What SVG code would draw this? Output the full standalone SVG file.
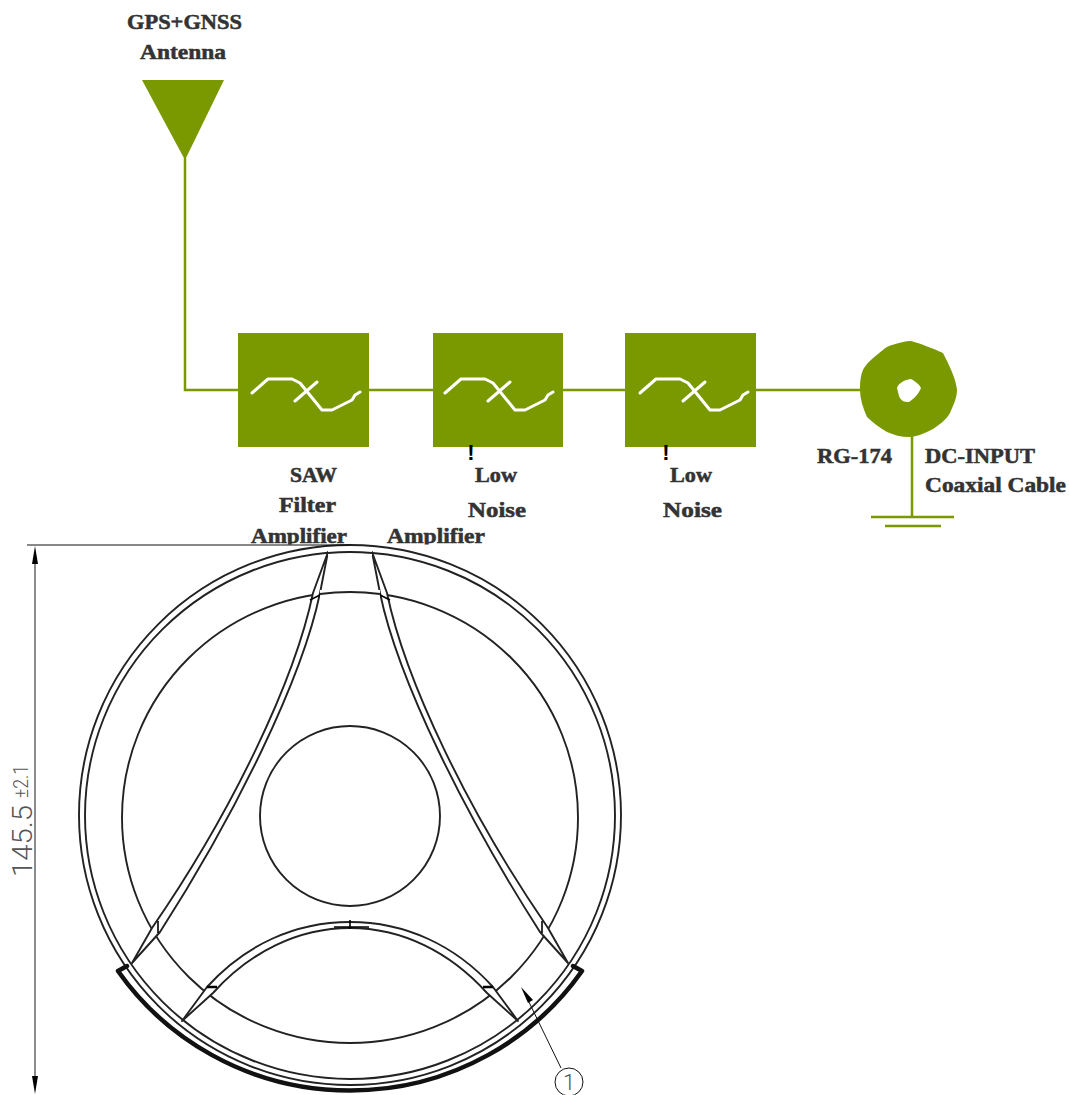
<svg xmlns="http://www.w3.org/2000/svg" width="1069" height="1095" viewBox="0 0 1069 1095">
<style>
.g{fill:#7a9900}
.w{fill:none;stroke:#7a9900;stroke-width:2.5}
.f{fill:none;stroke:#fff;stroke-width:3;stroke-linejoin:round;stroke-linecap:round}
.l{font-family:"Liberation Serif",serif;font-weight:bold;font-size:20px;fill:#333;stroke:#333;stroke-width:.5}
.d{fill:none;stroke:#222;stroke-width:1.9}
.k{fill:#fff;stroke:#222;stroke-width:1.9;stroke-linejoin:round}
.t{fill:none;stroke:#111;stroke-width:1}
.m{fill:none;stroke:#666;stroke-width:1.5}
.x{fill:none;stroke:#000;stroke-width:1.6}
.y{fill:none;stroke:#000;stroke-width:2.6}
.b{font-family:"Liberation Sans",sans-serif;font-weight:bold;font-size:22px;fill:#000}
.c{font-family:Roboto,"Liberation Sans",sans-serif;font-weight:300;fill:#555}
</style>
<defs>
<clipPath id="cl"><rect x="240" y="520" width="260" height="24.500"/></clipPath>
<path id="fc" class="f" d="M0 0L16-14H40L48-10L70 17H80L100 7L103 2L108-1M43 8L65-11"/>
</defs>
<g id="connectors">
<path class="w" d="M185 158V390H239"/>
<path class="w" d="M368 390H433"/>
<path class="w" d="M563 390H625"/>
<path class="w" d="M756 390H862"/>
<path class="w" d="M912 436V517"/>
</g>
<g id="antenna"><polygon class="g" points="142,80 224,80 185,160"/>
<text class="l" x="127" y="29" textLength="115" lengthAdjust="spacingAndGlyphs">GPS+GNSS</text>
<text class="l" x="140" y="59" textLength="86" lengthAdjust="spacingAndGlyphs">Antenna</text></g>
<g id="saw"><rect class="g" x="238" y="333" width="131" height="114"/>
<use href="#fc" x="252" y="393"/>
<text class="l" x="290" y="482" textLength="47" lengthAdjust="spacingAndGlyphs">SAW</text>
<text class="l" x="279" y="512" textLength="57" lengthAdjust="spacingAndGlyphs">Filter</text>
<text class="l" x="251" y="543" textLength="96" lengthAdjust="spacingAndGlyphs" clip-path="url(#cl)">Amplifier</text></g>
<g id="lna1"><rect class="g" x="433" y="333" width="130" height="114"/>
<use href="#fc" x="445" y="393"/>
<text class="b" x="471" y="460" text-anchor="middle">!</text>
<text class="l" x="475" y="482" textLength="42" lengthAdjust="spacingAndGlyphs">Low</text>
<text class="l" x="468" y="517" textLength="58" lengthAdjust="spacingAndGlyphs">Noise</text>
<text class="l" x="387" y="543" textLength="98" lengthAdjust="spacingAndGlyphs" clip-path="url(#cl)">Amplifier</text></g>
<g id="lna2"><rect class="g" x="625" y="333" width="131" height="114"/>
<use href="#fc" x="640" y="393"/>
<text class="b" x="666" y="460" text-anchor="middle">!</text>
<text class="l" x="670" y="482" textLength="42" lengthAdjust="spacingAndGlyphs">Low</text>
<text class="l" x="663" y="517" textLength="59" lengthAdjust="spacingAndGlyphs">Noise</text></g>
<g id="coax"><path class="g" fill-rule="evenodd" d="M860 390C860 380 861 373 864 368C868 362 873 358 878 354C884 349 887 346 892 345C899 343 905 341 911 341C922 344 934 349 943 353C948 363 956 378 957 390C957 398 953 406 950 413C946 420 939 425 933 429C925 433 917 437 909 437C901 437 894 435 887 432C880 428 873 423 867 417C863 408 860 399 860 390ZM897 388C898 384 903 380 911 379C916 382 919 384 921 388C919 393 916 397 909 402C904 402 901 401 899 396Z"/>
<text class="l" x="817" y="463" textLength="75" lengthAdjust="spacingAndGlyphs">RG-174</text>
<text class="l" x="925" y="463" textLength="110" lengthAdjust="spacingAndGlyphs">DC-INPUT</text>
<text class="l" x="925" y="492" textLength="141" lengthAdjust="spacingAndGlyphs">Coaxial Cable</text></g>
<g id="ground"><path class="w" d="M871 517H954M885 526H941"/></g>
<g id="drawing">
<ellipse class="d" cx="350" cy="815" rx="271" ry="270"/>
<ellipse class="d" cx="350" cy="815.500" rx="265" ry="263.500"/>
<ellipse class="d" cx="350" cy="817.500" rx="228" ry="225.500"/>
<circle class="d" cx="350" cy="816" r="90"/>
<path class="k" d="M328 552L313 593C295 680 232 812 152 928L132 963L160 932C235 815 302 680 320 593Z"/>
<path class="k" d="M372 552L387 593C405 680 468 812 548 928L568 963L540 932C465 815 398 680 380 593Z"/>
<path class="k" d="M182 1021L207 987C245 945 295 922 350 922C405 922 455 945 493 987L518 1021L487 993C450 952 402 928 350 928C298 928 250 952 213 993Z"/>
<path fill="#fff" d="M320 590H380V600H320ZM328 549H372V556H328Z"/>
<path class="d" d="M328 553Q350 551 372 553M320 594Q350 590 380 594"/>
<path class="x" d="M158 921V933M542 921V933M350 920V929M334 927H369M310 600L320 595M380 595L390 600"/>
<path class="y" d="M207 987H217M483 987H493"/>
<path fill="none" stroke="#111" stroke-width="4.500" stroke-linejoin="round" stroke-linecap="round" d="M127 966L118 971A282 277 0 0 0 582 971L573 966"/>
<path class="t" d="M27 545H350"/>
<path class="m" d="M35 560V1080"/>
<polygon points="35,546 32,564 38,564"/>
<polygon points="35,1094 32,1076 38,1076"/>
<path class="t" d="M527 998L561 1068"/>
<polygon points="521,987 528,1003 533,1000"/>
<circle class="t" cx="569" cy="1082" r="14"/>
<text class="c" x="569" y="1090" text-anchor="middle" font-size="22">1</text>
<text class="c" transform="translate(32 877) rotate(-90)" font-size="28" textLength="72" lengthAdjust="spacingAndGlyphs">145.5</text>
<text class="c" transform="translate(28 798) rotate(-90)" font-size="20" textLength="33" lengthAdjust="spacingAndGlyphs">±2.1</text>
</g>
</svg>
